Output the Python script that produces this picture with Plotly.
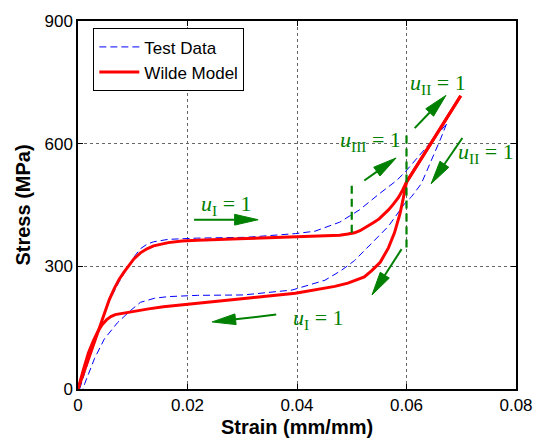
import math
import plotly.graph_objects as go

# ---------------- data ----------------
model_load_strain = [0, 0.0020, 0.0040, 0.0057, 0.0066, 0.0075, 0.0084, 0.0093, 0.0102, 0.0114,
                     0.0126, 0.0138, 0.0152, 0.0165, 0.0190, 0.0218, 0.0308, 0.0397, 0.0478, 0.0493,
                     0.0505, 0.0515, 0.0523, 0.0532, 0.0540, 0.0550, 0.0558, 0.0567, 0.0576, 0.0585,
                     0.0592, 0.0600, 0.0650, 0.0699]
model_load_stress = [0, 76, 153, 218, 245, 268, 286, 302, 318, 333,
                     343, 350, 355, 358, 362, 364, 368, 372, 376, 379,
                     382, 387, 393, 400, 407, 416, 426, 438, 452, 468,
                     484, 506, 612, 717]

model_unload_strain = [0.0699, 0.0650, 0.0600, 0.0594, 0.0588, 0.0578, 0.0567, 0.0552, 0.0537, 0.0523,
                       0.0505, 0.0493, 0.0469, 0.0433, 0.0397, 0.0308, 0.0218, 0.0156, 0.0129, 0.0099,
                       0.0080, 0.0068, 0.0060, 0.0052, 0.0044, 0.0036, 0.0028, 0.0019, 0.0010, 0]
model_unload_stress = [717, 612, 506, 466, 428, 382, 345, 310, 290, 274,
                       264, 259, 251, 242, 234, 222, 210, 201, 196, 190,
                       186, 182, 177, 169, 157, 140, 118, 88, 48, 0]

test_load_strain = [0.0003, 0.0030, 0.0057, 0.0075, 0.0093, 0.0104, 0.0114, 0.0126, 0.0138, 0.0165,
                    0.0218, 0.0308, 0.0397, 0.0433, 0.0478, 0.0514, 0.0549, 0.0582, 0.0597, 0.0633,
                    0.0657, 0.0673]
test_load_stress = [0, 115, 215, 262, 302, 326, 343, 354, 360, 366,
                    369, 371, 380, 386, 408, 438, 476, 510, 530, 586,
                    622, 648]

test_unload_strain = [0.0673, 0.0663, 0.0645, 0.0627, 0.0609, 0.0597, 0.0567, 0.0537, 0.0505, 0.0481,
                      0.0451, 0.0391, 0.0302, 0.0218, 0.0165, 0.0140, 0.0114, 0.0096, 0.0072, 0.0048,
                      0.0030, 0.00125, 0.0009]
test_unload_stress = [648, 614, 558, 502, 470, 454, 398, 358, 314, 290,
                      266, 242, 230, 229, 226, 222, 212, 192, 162, 122,
                      74, 14, 0]

# switching markers (vertical dashed lines): strain, stress from, stress to
switch_strain = [0.05, 0.06]
switch_low = [382, 346]
switch_high = [506, 626]

# arrows: (tail strain, tail stress, tip strain, tip stress)
arrows = [
    (0.0212, 414, 0.0329, 414),
    (0.0362, 182, 0.0245, 164),
    (0.0615, 638, 0.0672, 718),
    (0.0702, 614, 0.0645, 502),
    (0.0523, 510, 0.0581, 565),
    (0.0591, 342, 0.0537, 230),
]
# labels: (strain, stress, text)
labels = [
    (0.0272, 451, "<i>u</i><sub>I</sub> = 1"),
    (0.0440, 170, "<i>u</i><sub>I</sub> = 1"),
    (0.0658, 746, "<i>u</i><sub>II</sub> = 1"),
    (0.0745, 578, "<i>u</i><sub>II</sub> = 1"),
    (0.0534, 606, "<i>u</i><sub>III</sub> = 1"),
]

x_ticks = [0, 0.02, 0.04, 0.06, 0.08]
x_ticktext = ["0", "0.02", "0.04", "0.06", "0.08"]
y_ticks = [0, 300, 600, 900]
y_ticktext = ["0", "300", "600", "900"]

X_RANGE = [0, 0.08]
Y_RANGE = [0, 900]
W, H = 545, 447
M = dict(l=78, r=20, t=16, b=56)
GREEN = "#008000"
HEAD_LEN, HEAD_W = 24, 11  # arrow head size in pixels

# pixel scale of the plot area (used to shape arrow heads)
sx = (W - M["l"] - M["r"]) / (X_RANGE[1] - X_RANGE[0])
sy = (H - M["t"] - M["b"]) / (Y_RANGE[1] - Y_RANGE[0])

fig = go.Figure()

fig.add_trace(go.Scatter(x=test_load_strain, y=test_load_stress, mode="lines",
                         line=dict(color="#0000FF", width=1, dash="7px,4px"),
                         name="Test Data", legendgroup="t"))
fig.add_trace(go.Scatter(x=test_unload_strain, y=test_unload_stress, mode="lines",
                         line=dict(color="#0000FF", width=1, dash="7px,4px"),
                         name="Test Data", legendgroup="t", showlegend=False))
fig.add_trace(go.Scatter(x=model_load_strain, y=model_load_stress, mode="lines",
                         line=dict(color="#FF0000", width=3),
                         name="Wilde Model", legendgroup="m"))
fig.add_trace(go.Scatter(x=model_unload_strain, y=model_unload_stress, mode="lines",
                         line=dict(color="#FF0000", width=3),
                         name="Wilde Model", legendgroup="m", showlegend=False))

for xs, lo, hi in zip(switch_strain, switch_low, switch_high):
    fig.add_trace(go.Scatter(x=[xs, xs], y=[lo, hi], mode="lines",
                             line=dict(color=GREEN, width=2.2, dash="8px,5px"),
                             showlegend=False, hoverinfo="skip"))

for (tx, ty, hx, hy) in arrows:
    dxp = (hx - tx) * sx
    dyp = (hy - ty) * sy
    L = math.hypot(dxp, dyp)
    ux, uy = dxp / L, dyp / L
    # base centre of head, and the two base corners (pixel offsets -> data)
    bx = hx - ux * HEAD_LEN / sx
    by = hy - uy * HEAD_LEN / sy
    px, py = -uy, ux
    c1 = (bx + px * HEAD_W / 2 / sx, by + py * HEAD_W / 2 / sy)
    c2 = (bx - px * HEAD_W / 2 / sx, by - py * HEAD_W / 2 / sy)
    fig.add_trace(go.Scatter(x=[tx, bx], y=[ty, by], mode="lines",
                             line=dict(color=GREEN, width=2),
                             showlegend=False, hoverinfo="skip"))
    fig.add_trace(go.Scatter(x=[hx, c1[0], c2[0], hx], y=[hy, c1[1], c2[1], hy],
                             mode="lines", fill="toself", fillcolor=GREEN,
                             line=dict(color=GREEN, width=1),
                             showlegend=False, hoverinfo="skip"))

for (lx, ly, txt) in labels:
    fig.add_annotation(x=lx, y=ly, text=txt, showarrow=False,
                       font=dict(family="Liberation Serif", size=22, color=GREEN))

fig.update_layout(
    width=W, height=H,
    margin=M,
    paper_bgcolor="white", plot_bgcolor="white",
    font=dict(family="Liberation Sans", size=17, color="black"),
    showlegend=True,
    legend=dict(x=0.035, y=0.98, xanchor="left", yanchor="top",
                bgcolor="white", bordercolor="black", borderwidth=1,
                font=dict(size=17), tracegroupgap=0, itemwidth=40),
)
fig.update_xaxes(range=X_RANGE, tickvals=x_ticks, ticktext=x_ticktext,
                 showline=True, linecolor="black", linewidth=1.5, mirror="ticks",
                 ticks="inside", ticklen=5, tickcolor="black",
                 showgrid=True, gridcolor="#666", griddash="dot", gridwidth=1,
                 zeroline=False,
                 title=dict(text="<b>Strain (mm/mm)</b>", font=dict(size=20), standoff=6))
fig.update_yaxes(range=Y_RANGE, tickvals=y_ticks, ticktext=y_ticktext,
                 showline=True, linecolor="black", linewidth=1.5, mirror="ticks",
                 ticks="inside", ticklen=5, tickcolor="black",
                 showgrid=True, gridcolor="#666", griddash="dot", gridwidth=1,
                 zeroline=False,
                 title=dict(text="<b>Stress (MPa)</b>", font=dict(size=20), standoff=8))

fig.write_html("out.html")
